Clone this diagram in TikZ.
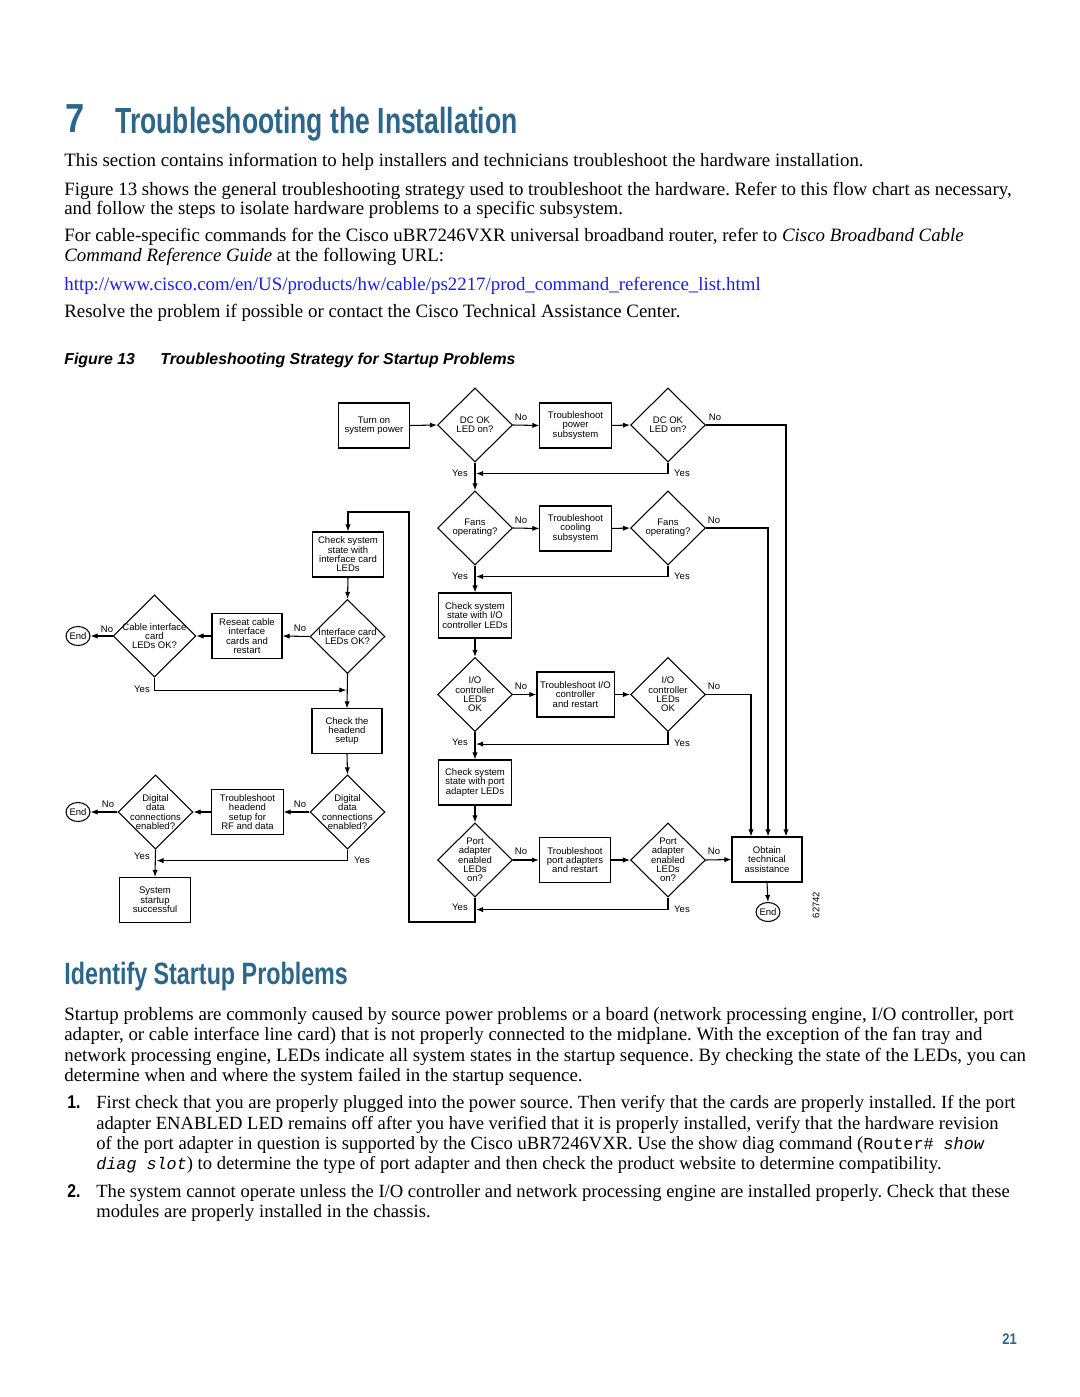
\documentclass[tikz,border=0pt]{standalone}
\usepackage{fontspec}
\setmainfont{Liberation Serif}
\setsansfont{Liberation Sans}
\setmonofont{Liberation Mono}
\newfontfamily\headfont{Liberation Sans Bold}[FakeStretch=0.73]
\newfontfamily\headfontb{Liberation Sans Bold}[FakeStretch=0.755]
\newfontfamily\numfont{Liberation Sans Bold}[FakeStretch=0.85]
\usetikzlibrary{shapes.geometric,arrows.meta,calc}
\definecolor{ciscoteal}{RGB}{43,103,138}
\definecolor{urlblue}{RGB}{30,30,225}
\newcommand\dfont{\sffamily\fontsize{5.4}{5.3}\selectfont}
\newcommand\bfont{\rmfamily\frenchspacing\fontsize{10.7}{12}\selectfont}
\newcommand\ifont{\rmfamily\frenchspacing\fontsize{10.55}{12}\selectfont}
\tikzset{
  bodyline/.style={anchor=base west,inner sep=0pt,font=\bfont},
  itemline/.style={anchor=base west,inner sep=0pt,font=\ifont},
  fbox/.style={draw,line width=0.6pt,rectangle,inner sep=0pt,align=center,font=\dfont,
     minimum width=40.3pt,minimum height=25.5pt},
  dia/.style={draw,line width=0.6pt,diamond,inner sep=0pt,minimum width=42.5pt,minimum height=42pt},
  dtext/.style={align=center,font=\dfont,inner sep=0pt},
  endnode/.style={draw,line width=0.6pt,ellipse,inner sep=0pt,minimum width=12.5pt,minimum height=10.8pt,font=\dfont},
  lab/.style={font=\dfont,inner sep=0pt},
  arr/.style={line width=0.6pt,-{Latex[length=4pt,width=3pt]}}
}
\begin{document}
\begin{tikzpicture}[x=0.567pt,y=-0.567pt]
\path[fill=white] (0,0) rectangle (1080,1397);
\useasboundingbox (0,0) rectangle (1080,1397);

% ---------- heading ----------
\node[anchor=base west,inner sep=0pt,text=ciscoteal,font=\numfont\fontsize{23}{23}\selectfont] (h7) at (65,133) {7};
\node[anchor=base west,inner sep=0pt,text=ciscoteal,font=\headfont\fontsize{20.6}{22}\selectfont] (htitle) at (115,134) {Troubleshooting the Installation};

\node[bodyline] (p1) at (64,167) {This section contains information to help installers and technicians troubleshoot the hardware installation.};
\node[bodyline] (p2a) at (64,195) {Figure 13 shows the general troubleshooting strategy used to troubleshoot the hardware. Refer to this flow chart as necessary,};
\node[bodyline] (p2b) at (64,215) {and follow the steps to isolate hardware problems to a specific subsystem.};
\node[bodyline] (p3a) at (64,242) {For cable-specific commands for the Cisco uBR7246VXR universal broadband router, refer to \textit{Cisco Broadband Cable}};
\node[bodyline] (p3b) at (64,262) {\textit{Command Reference Guide} at the following URL:};
\node[bodyline,text=urlblue] (url) at (64,290) {http://www.cisco.com/en/US/products/hw/cable/ps2217/prod\_command\_reference\_list.html};
\node[bodyline] (p4) at (64,317) {Resolve the problem if possible or contact the Cisco Technical Assistance Center.};

\node[anchor=base west,inner sep=0pt,font=\sffamily\bfseries\itshape\fontsize{9}{10}\selectfont] (figno) at (64,364) {Figure 13};
\node[anchor=base west,inner sep=0pt,font=\sffamily\bfseries\itshape\fontsize{9}{10}\selectfont] (figtitle) at (160,364) {Troubleshooting Strategy for Startup Problems};

% ---------- flowchart: main column ----------
\node[fbox] (turnon) at (374,425.5) {Turn on\\system power};
\node[dia,label={[dtext]center:DC OK\\LED on?}] (d1) at (475,425) {};
\node[fbox] (tp) at (575.5,425.5) {Troubleshoot\\power\\subsystem};
\node[dia,label={[dtext]center:DC OK\\LED on?}] (d2) at (668,425) {};

\node[dia,label={[dtext]center:Fans\\operating?}] (d3) at (475,528) {};
\node[fbox] (tc) at (575.5,528.5) {Troubleshoot\\cooling\\subsystem};
\node[dia,label={[dtext]center:Fans\\operating?}] (d4) at (668,528) {};

\node[fbox,minimum width=41.4pt] (iobox) at (475,615.5) {Check system\\state with I/O\\controller LEDs};
\node[dia,label={[dtext]center:I/O\\controller\\LEDs\\OK}] (d5) at (475,694.5) {};
\node[fbox,minimum width=43.7pt] (tio) at (575.5,694.5) {Troubleshoot I/O\\controller\\and restart};
\node[dia,label={[dtext]center:I/O\\controller\\LEDs\\OK}] (d6) at (668,694.5) {};

\node[fbox,minimum width=41.4pt] (pabox) at (475,782.5) {Check system\\state with port\\adapter LEDs};
\node[dia,label={[dtext]center:Port\\adapter\\enabled\\LEDs\\on?}] (d7) at (475,860) {};
\node[fbox] (tpa) at (575,860) {Troubleshoot\\port adapters\\and restart};
\node[dia,label={[dtext]center:Port\\adapter\\enabled\\LEDs\\on?}] (d8) at (668,860) {};
\node[fbox,minimum width=39.7pt] (obtain) at (767,859.5) {Obtain\\technical\\assistance};
\node[endnode] (end3) at (768,912) {End};

% ---------- flowchart: left part ----------
\node[fbox] (icbox) at (348,554.5) {Check system\\state with\\interface card\\LEDs};
\node[dia,label={[dtext]center:Interface card\\LEDs OK?}] (d9) at (347.5,636.5) {};
\node[fbox,minimum width=39.7pt,minimum height=25pt] (reseat) at (247,636) {Reseat cable\\interface\\cards and\\restart};
\node[dia,minimum width=47pt,minimum height=46.5pt,label={[dtext]center:Cable interface\\card\\LEDs OK?}] (d10) at (154.5,636) {};
\node[endnode] (end1) at (78,636) {End};

\node[fbox,minimum width=39.7pt,minimum height=25pt] (headend) at (347,731) {Check the\\headend\\setup};
\node[dia,label={[dtext]center:Digital\\data\\connections\\enabled?}] (d11) at (347.5,812) {};
\node[fbox,minimum height=25pt] (trh) at (247.5,812) {Troubleshoot\\headend\\setup for\\RF and data};
\node[dia,label={[dtext]center:Digital\\data\\connections\\enabled?}] (d12) at (155.5,812) {};
\node[endnode] (end2) at (78,812) {End};
\node[fbox] (success) at (155,900) {System\\startup\\successful};

\coordinate (lb) at (409,922);
\coordinate (lt) at (409,512);

% ---------- connectors ----------
\draw[arr] (turnon.east) -- (d1.west);
\draw[arr] (d1.east) -- (tp.west);
\draw[arr] (tp.east) -- (d2.west);
\draw[arr] (d2.east) -| ($(obtain.north)+(19,0)$);
\draw[arr] (d2.south) |- ($(d1.south)+(1,11)$);
\draw[arr] (d1.south) -- (d3.north);

\draw[arr] (d3.east) -- (tc.west);
\draw[arr] (tc.east) -- (d4.west);
\draw[arr] (d4.east) -| ($(obtain.north)+(1,0)$);
\draw[arr] (d4.south) |- ($(d3.south)+(1,11)$);
\draw[arr] (d3.south) -- (iobox.north);

\draw[arr] (iobox.south) -- (d5.north);
\draw[arr] (d5.east) -- (tio.west);
\draw[arr] (tio.east) -- (d6.west);
\draw[arr] (d6.east) -| ($(obtain.north)+(-16,0)$);
\draw[arr] (d6.south) |- ($(d5.south)+(1,12)$);
\draw[arr] (d5.south) -- (pabox.north);

\draw[arr] (pabox.south) -- (d7.north);
\draw[arr] (d7.east) -- (tpa.west);
\draw[arr] (tpa.east) -- (d8.west);
\draw[arr] (d8.east) -- (obtain.west);
\draw[arr] (obtain.south) -- (end3.north);
\draw[arr] (d8.south) |- ($(d7.south)+(1,12)$);

\draw[arr] (d7.south) |- (lb) -- (lt) -| (icbox.north);
\draw[arr] (icbox.south) -- (d9.north);
\draw[arr] (d9.west) -- (reseat.east);
\draw[arr] (reseat.west) -- (d10.east);
\draw[arr] (d10.west) -- (end1.east);
\draw[arr] (d10.south) |- ($(d9.south)+(-1,16)$);
\draw[arr] (d9.south) -- (headend.north);

\draw[arr] (headend.south) -- (d11.north);
\draw[arr] (d11.west) -- (trh.east);
\draw[arr] (trh.west) -- (d12.east);
\draw[arr] (d12.west) -- (end2.east);
\draw[arr] (d12.south) -- (success.north);
\draw[arr] (d11.south) |- ($(d12.south)+(1,11)$);

% ---------- yes / no labels ----------
\node[lab] (n1) at (521,417) {No};
\node[lab] (n2) at (715,417) {No};
\node[lab] (y1) at (460,473) {Yes};
\node[lab] (y2) at (682,473) {Yes};
\node[lab] (n3) at (521,520) {No};
\node[lab] (n4) at (714,520) {No};
\node[lab] (y3) at (460,576) {Yes};
\node[lab] (y4) at (682,576) {Yes};
\node[lab] (n5) at (521,686) {No};
\node[lab] (n6) at (714,686) {No};
\node[lab] (y5) at (460,742) {Yes};
\node[lab] (y6) at (682,743) {Yes};
\node[lab] (n7) at (521,851) {No};
\node[lab] (n8) at (714,851) {No};
\node[lab] (y7) at (460,907) {Yes};
\node[lab] (y8) at (682,909) {Yes};
\node[lab] (n9) at (300,628) {No};
\node[lab] (n10) at (107,629) {No};
\node[lab] (y9) at (142,689) {Yes};
\node[lab] (n11) at (300,804) {No};
\node[lab] (n12) at (108,804) {No};
\node[lab] (y10) at (142,856) {Yes};
\node[lab] (y11) at (362,860) {Yes};
\node[lab,rotate=90] (fignum) at (816,905) {62742};

% ---------- second section ----------
\node[anchor=base west,inner sep=0pt,text=ciscoteal,font=\headfontb\fontsize{17.5}{19}\selectfont] (h2) at (64,984) {Identify Startup Problems};

\node[bodyline] (q1) at (64,1020) {Startup problems are commonly caused by source power problems or a board (network processing engine, I/O controller, port};
\node[bodyline] (q2) at (64,1040) {adapter, or cable interface line card) that is not properly connected to the midplane. With the exception of the fan tray and};
\node[bodyline] (q3) at (64,1061) {network processing engine, LEDs indicate all system states in the startup sequence. By checking the state of the LEDs, you can};
\node[bodyline] (q4) at (64,1081) {determine when and where the system failed in the startup sequence.};

\node[anchor=base west,inner sep=0pt,font=\numfont\fontsize{10.5}{12}\selectfont] (i1) at (67,1108) {1.};
\node[itemline] (i1a) at (96,1108) {First check that you are properly plugged into the power source. Then verify that the cards are properly installed. If the port};
\node[itemline] (i1b) at (96,1129) {adapter ENABLED LED remains off after you have verified that it is properly installed, verify that the hardware revision};
\node[itemline] (i1c) at (96,1149) {of the port adapter in question is supported by the Cisco uBR7246VXR. Use the show diag command (\texttt{\fontsize{9.5}{12}\selectfont Router\# \textit{show}}};
\node[itemline] (i1d) at (96,1169) {\texttt{\fontsize{9.5}{12}\selectfont\textit{diag slot}}) to determine the type of port adapter and then check the product website to determine compatibility.};

\node[anchor=base west,inner sep=0pt,font=\numfont\fontsize{10.5}{12}\selectfont] (i2) at (67,1197) {2.};
\node[itemline] (i2a) at (96,1197) {The system cannot operate unless the I/O controller and network processing engine are installed properly. Check that these};
\node[itemline] (i2b) at (96,1217) {modules are properly installed in the chassis.};

\node[anchor=base west,inner sep=0pt,text=ciscoteal,font=\numfont\fontsize{8.7}{10}\selectfont] (pgno) at (1002,1344) {21};
\end{tikzpicture}
\end{document}
